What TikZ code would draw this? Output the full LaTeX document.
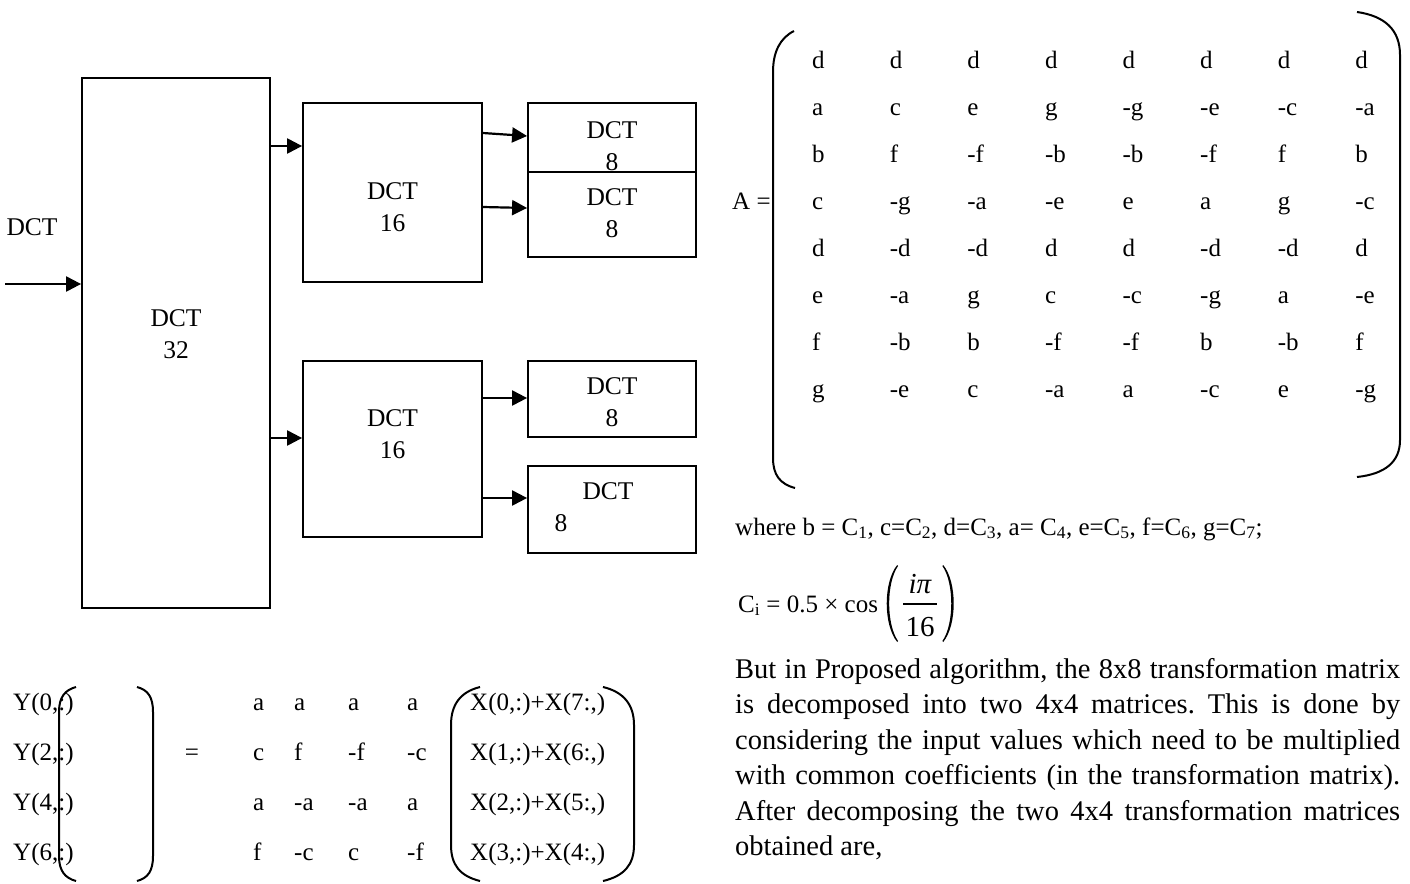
\documentclass[tikz,border=0pt]{standalone}
\usepackage{fontspec}
\setmainfont{Liberation Serif}
\usetikzlibrary{arrows.meta}
\frenchspacing
\begin{document}
\begin{tikzpicture}[x=1pt,y=-1pt,
  box/.style={draw, line width=1.8pt, inner sep=0pt},
  blbl/.style={font=\fontsize{25.5}{32}\selectfont, align=center, inner sep=0pt},
  arr/.style={line width=2.2pt, -{Triangle[length=15pt,width=15pt]}},
  ent/.style={font=\fontsize{25}{30}\selectfont, anchor=base west, inner sep=0pt},
  brk/.style={line width=2pt},
  fnum/.style={font=\fontsize{29}{30}\selectfont, inner sep=0pt},
  para/.style={font=\fontsize{28.5}{35.5}\selectfont, text width=665pt,
    align=justify, inner sep=0pt, anchor=north west}]
\useasboundingbox (0,0) rectangle (1410,883);

% ---------------- block diagram ----------------
\node[box, minimum width=188pt, minimum height=530pt] (b32) at (176,343) {};
\node[box, minimum width=179pt, minimum height=179pt] (b16a) at (392.5,192.5) {};
\node[box, minimum width=179pt, minimum height=176pt] (b16b) at (392.5,449) {};
\node[box, minimum width=168pt, minimum height=69pt] (b8a) at (612,137.5) {};
\node[box, minimum width=168pt, minimum height=85pt] (b8b) at (612,214.5) {};
\node[box, minimum width=168pt, minimum height=76pt] (b8c) at (612,399) {};
\node[box, minimum width=168pt, minimum height=87pt] (b8d) at (612,509.5) {};

\node[blbl] (lin) at (32,227) {DCT};
\node[blbl] (t32) at (176,334) {DCT\\32};
\node[blbl] (t16a) at (392.5,207.5) {DCT\\16};
\node[blbl] (t16b) at (392.5,434) {DCT\\16};
\node[blbl] (t8a) at (612,146) {DCT\\8};
\node[blbl] (t8b) at (612,213.5) {DCT\\8};
\node[blbl] (t8c) at (612,402.5) {DCT\\8};
\node[blbl] (t8d) at (608,491) {DCT};
\node[blbl] (t8dn) at (561,523) {8};

\coordinate (in) at (5,284);
\draw[arr] (in) -- (b32.west |- in);
\draw[arr] (b32.east |- 0,146) -- (b16a.west |- 0,146);
\draw[arr] (b32.east |- 0,438) -- (b16b.west |- 0,438);
\draw[arr] (b16a.east |- 0,133) -- (b8a.west |- 0,136);
\draw[arr] (b16a.east |- 0,207) -- (b8b.west |- 0,208);
\draw[arr] (b16b.east |- 0,398) -- (b8c.west |- 0,398);
\draw[arr] (b16b.east |- 0,498) -- (b8d.west |- 0,498);

% ---------------- 8x8 matrix A ----------------
\node[ent] (Aeq) at (732,209) {A =};
\foreach \rowlist [count=\rowi] in {{d,d,d,d,d,d,d,d},{a,c,e,g,-g,-e,-c,-a},
    {b,f,-f,-b,-b,-f,f,b},{c,-g,-a,-e,e,a,g,-c},{d,-d,-d,d,d,-d,-d,d},
    {e,-a,g,c,-c,-g,a,-e},{f,-b,b,-f,-f,b,-b,f},{g,-e,c,-a,a,-c,e,-g}}{
  \foreach \v [count=\coli] in \rowlist {
    \node[ent] (A-\rowi-\coli) at ({812+77.6*(\coli-1)},{68+47*(\rowi-1)}) {\v};
  }
}
\draw[brk] (794,31) .. controls (780,38) and (773,52) .. (773,72) -- (773,458)
  .. controls (773,475) and (780,484) .. (795,488);
\draw[brk] (1357,12) .. controls (1385,16) and (1400,30) .. (1400,55) -- (1400,440)
  .. controls (1400,462) and (1385,474) .. (1357,477);

% ---------------- coefficients ----------------
\node[ent] (where) at (735,535) {where b = C\textsubscript{1}, c=C\textsubscript{2},
  d=C\textsubscript{3}, a= C\textsubscript{4}, e=C\textsubscript{5},
  f=C\textsubscript{6}, g=C\textsubscript{7};};
\node[ent] (ci) at (738,612) {C\textsubscript{i} = 0.5 × cos};
\coordinate (f0) at (ci.east |- 0,0);
\begin{scope}[shift={(f0)}]
  % tall parentheses, drawn as thin crescents
  \fill (19,565) .. controls (5,582) and (5,625) .. (19,642)
    -- (19.8,641) .. controls (8,624) and (8,583) .. (19.8,566) -- cycle;
  \node[fnum] (fnum) at (42,584) {\textit{iπ}};
  \node[fnum] (fden) at (42,627) {16};
  \draw[line width=1.3pt] (25,604) -- (59,604);
  \fill (65,565) .. controls (79,582) and (79,625) .. (65,642)
    -- (64.2,641) .. controls (76,624) and (76,583) .. (64.2,566) -- cycle;
\end{scope}

% ---------------- paragraph ----------------
\node[para] (para) at (735,658) {\hyphenpenalty=10000
  But in Proposed algorithm, the 8x8 transformation matrix\linebreak
  is decomposed into two 4x4 matrices. This is done by\linebreak
  considering the input values which need to be multiplied\linebreak
  with common coefficients (in the transformation matrix).\linebreak
  After decomposing the two 4x4 transformation matrices\linebreak
  obtained are,};

% ---------------- even-row decomposition ----------------
\foreach \lab [count=\rowi] in {0,2,4,6}{
  \node[ent] (Y-\rowi) at (13,{710+50*(\rowi-1)}) {Y(\lab,:)};
}
\draw[brk] (76,687) .. controls (65,690) and (59,697) .. (59,712) -- (59,856)
  .. controls (59,871) and (65,878) .. (76,881);
\draw[brk] (137,687) .. controls (148,690) and (153,697) .. (153,712) -- (153,856)
  .. controls (153,871) and (148,878) .. (137,881);

\node[font=\fontsize{25}{30}\selectfont, inner sep=0pt] (eq) at (192,755) {=};

\foreach \rowlist [count=\rowi] in {{a,a,a,a},{c,f,-f,-c},{a,-a,-a,a},{f,-c,c,-f}}{
  \foreach \v [count=\coli] in \rowlist {
    \ifcase\coli\or\def\xx{253}\or\def\xx{294}\or\def\xx{348}\or\def\xx{407}\fi
    \node[ent] (M-\rowi-\coli) at (\xx,{710+50*(\rowi-1)}) {\v};
  }
}

\foreach \pa/\pb [count=\rowi] in {0/7,1/6,2/5,3/4}{
  \node[ent] (X-\rowi) at (470,{710+50*(\rowi-1)}) {X(\pa,:)+X(\pb:,)};
}
\draw[brk] (480,687) .. controls (460,692) and (451,705) .. (451,725) -- (451,845)
  .. controls (451,865) and (460,876) .. (480,881);
\draw[brk] (603,687) .. controls (624,692) and (634,705) .. (634,725) -- (634,845)
  .. controls (634,865) and (624,876) .. (603,881);
\end{tikzpicture}
\end{document}
